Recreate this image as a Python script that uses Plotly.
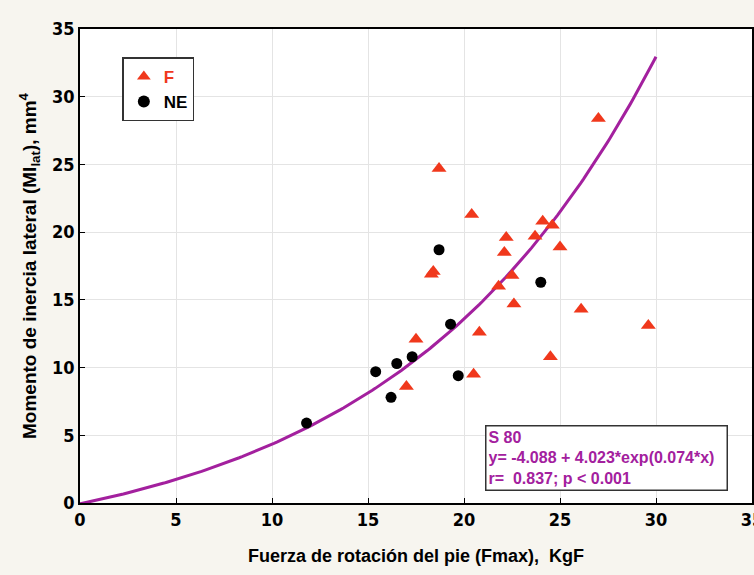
import numpy as np
import plotly.graph_objects as go

# Group F (red triangles)
f_x = [18.7, 20.4, 24.1, 24.6, 22.2, 23.7, 25.0, 22.1, 18.3, 18.4, 22.5, 21.8, 22.6,
       26.1, 20.8, 17.5, 24.5, 20.5, 17.0, 27.0, 29.6]
f_y = [24.7, 21.3, 20.8, 20.5, 19.6, 19.7, 18.9, 18.5, 16.9, 17.1, 16.8, 16.0, 14.7,
       14.3, 12.6, 12.1, 10.8, 9.5, 8.6, 28.4, 13.1]

# Group NE (black circles)
ne_x = [18.7, 24.0, 19.3, 17.3, 16.5, 15.4, 19.7, 16.2, 11.8]
ne_y = [18.7, 16.3, 13.2, 10.8, 10.3, 9.7, 9.4, 7.8, 5.9]

# Fitted model y = a + b*exp(c*x)
fit_a, fit_b, fit_c = -4.088, 4.023, 0.074
fit_xmin, fit_xmax = 0, 30

x_ticks = [0, 5, 10, 15, 20, 25, 30, 35]
y_ticks = [0, 5, 10, 15, 20, 25, 30, 35]

fx = np.linspace(fit_xmin, fit_xmax, 200)
fy = fit_a + fit_b * np.exp(fit_c * fx)

fig = go.Figure()
fig.add_trace(go.Scatter(x=fx, y=fy, mode="lines", line=dict(color="#a3209e", width=3),
                         showlegend=False, hoverinfo="skip"))
fig.add_trace(go.Scatter(x=f_x, y=f_y, mode="markers",
                         name="<b><span style='color:#f0381c'>F</span></b>",
                         marker=dict(symbol="triangle-up", size=13, color="#f0381c")))
fig.add_trace(go.Scatter(x=ne_x, y=ne_y, mode="markers", name="<b>NE</b>",
                         marker=dict(symbol="circle", size=11, color="black")))

tickfont = dict(family="Liberation Sans Narrow, DejaVu Sans Condensed, Liberation Sans, Arial",
                size=18, color="black")
axcommon = dict(showline=True, linecolor="black", linewidth=1.5, mirror=True,
                ticks="inside", ticklen=5, tickcolor="black", automargin=False,
                showgrid=True, gridcolor="#e4e4e4", gridwidth=1, zeroline=False,
                tickfont=tickfont, ticklabeloverflow="allow")

fig.update_layout(
    width=754, height=575, autosize=False,
    margin=dict(l=80, r=2, t=29, b=72),
    paper_bgcolor="#f7f5ef", plot_bgcolor="white",
    font=dict(family="Liberation Sans, Arial", color="black"),
    xaxis=dict(range=[0, 35], tickvals=x_ticks, ticktext=[f"<b>{v}</b>" for v in x_ticks],
               title=dict(text="<b>Fuerza de rotación del pie (Fmax),  KgF</b>",
                          font=dict(size=18), standoff=20),
               **axcommon),
    yaxis=dict(range=[0, 35], tickvals=y_ticks, ticktext=[f"<b>{v}</b>" for v in y_ticks],
               title=dict(text="<b>Momento de inercia lateral (MI<sub>lat</sub>), mm<sup>4</sup></b>",
                          font=dict(size=19), standoff=10),
               **axcommon),
    legend=dict(x=0.063, y=0.94, xanchor="left", yanchor="top",
                bgcolor="white", bordercolor="#333333", borderwidth=1.5,
                font=dict(size=17, family="Liberation Sans, Arial"),
                itemsizing="constant", tracegroupgap=0, itemwidth=30),
    annotations=[dict(
        xref="paper", yref="paper", x=0.602, y=0.165, xanchor="left", yanchor="top",
        align="left", showarrow=False,
        text="<b>S 80<br>y= -4.088 + 4.023*exp(0.074*x)<br>r=  0.837; p < 0.001</b>",
        font=dict(size=16, color="#a3209e", family="Liberation Sans, Arial"),
        bordercolor="#333333", borderwidth=1.5, borderpad=2, bgcolor="white",
        width=236)],
)

post = ("document.body.style.margin='0';document.body.style.padding='0';"
        "document.body.style.overflow='hidden';"
        "Plotly.relayout('{plot_id}', {width:754, height:575});")
fig.write_html("out.html", post_script=post,
               config={"responsive": False, "displayModeBar": False},
               default_width="754px", default_height="575px")
